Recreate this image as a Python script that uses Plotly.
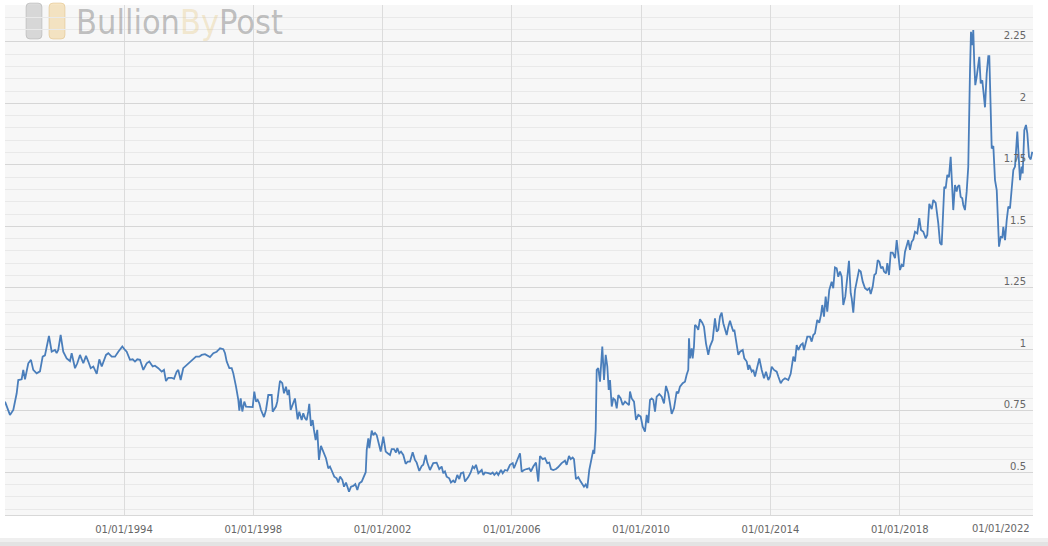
import datetime as dt
import plotly.graph_objects as go

# ---------------- data (decimal year, ratio) ----------------
t_dec = [
    1990.318, 1990.472, 1990.575, 1990.680, 1990.729, 1990.834, 1990.884, 1990.937, 1991.039, 1991.122,
    1991.193, 1991.298, 1991.401, 1991.484, 1991.555, 1991.608, 1991.679, 1991.763, 1991.865, 1991.917,
    1991.967, 1992.041, 1992.121, 1992.227, 1992.329, 1992.381, 1992.484, 1992.555, 1992.638, 1992.740,
    1992.824, 1992.895, 1992.969, 1993.050, 1993.155, 1993.235, 1993.310, 1993.443, 1993.514, 1993.619,
    1993.721, 1993.823, 1993.947, 1994.031, 1994.083, 1994.185, 1994.269, 1994.340, 1994.411, 1994.495,
    1994.597, 1994.702, 1994.782, 1994.888, 1994.959, 1995.061, 1995.166, 1995.237, 1995.299, 1995.370,
    1995.475, 1995.547, 1995.630, 1995.680, 1995.754, 1995.834, 1995.940, 1996.042, 1996.125, 1996.227,
    1996.329, 1996.404, 1996.506, 1996.608, 1996.660, 1996.763, 1996.868, 1996.917, 1996.970, 1997.072,
    1997.125, 1997.177, 1997.258, 1997.332, 1997.381, 1997.465, 1997.536, 1997.567, 1997.610, 1997.660,
    1997.722, 1997.774, 1997.876, 1997.982, 1998.031, 1998.084, 1998.136, 1998.186, 1998.238, 1998.331,
    1998.393, 1998.464, 1998.569, 1998.600, 1998.702, 1998.743, 1998.826, 1998.897, 1998.950, 1999.012,
    1999.064, 1999.105, 1999.157, 1999.238, 1999.290, 1999.374, 1999.423, 1999.498, 1999.547, 1999.600,
    1999.652, 1999.702, 1999.733, 1999.785, 1999.838, 1999.878, 1999.931, 1999.980, 2000.033, 2000.095,
    2000.166, 2000.249, 2000.321, 2000.373, 2000.426, 2000.506, 2000.581, 2000.630, 2000.683, 2000.754,
    2000.806, 2000.868, 2000.961, 2001.023, 2001.094, 2001.156, 2001.218, 2001.280, 2001.354, 2001.425,
    2001.478, 2001.509, 2001.558, 2001.589, 2001.663, 2001.713, 2001.766, 2001.818, 2001.899, 2001.942,
    2002.022, 2002.097, 2002.158, 2002.230, 2002.282, 2002.353, 2002.415, 2002.456, 2002.517, 2002.570,
    2002.641, 2002.715, 2002.777, 2002.848, 2002.932, 2003.003, 2003.056, 2003.136, 2003.210, 2003.260,
    2003.334, 2003.384, 2003.467, 2003.569, 2003.674, 2003.755, 2003.829, 2003.879, 2003.931, 2003.984,
    2004.064, 2004.117, 2004.188, 2004.241, 2004.312, 2004.374, 2004.426, 2004.498, 2004.550, 2004.652,
    2004.726, 2004.788, 2004.838, 2004.890, 2004.962, 2005.067, 2005.116, 2005.169, 2005.271, 2005.345,
    2005.407, 2005.457, 2005.531, 2005.580, 2005.664, 2005.717, 2005.788, 2005.859, 2005.942, 2006.026,
    2006.066, 2006.128, 2006.168, 2006.252, 2006.304, 2006.376, 2006.459, 2006.540, 2006.592, 2006.663,
    2006.747, 2006.818, 2006.871, 2006.954, 2007.025, 2007.096, 2007.158, 2007.211, 2007.282, 2007.366,
    2007.428, 2007.542, 2007.644, 2007.697, 2007.768, 2007.820, 2007.882, 2007.923, 2007.984, 2008.056,
    2008.130, 2008.179, 2008.232, 2008.285, 2008.334, 2008.396, 2008.470, 2008.520, 2008.551, 2008.594,
    2008.625, 2008.674, 2008.727, 2008.798, 2008.851, 2008.903, 2008.953, 2008.996, 2009.036, 2009.089,
    2009.138, 2009.191, 2009.244, 2009.293, 2009.367, 2009.429, 2009.501, 2009.572, 2009.624, 2009.655,
    2009.708, 2009.779, 2009.841, 2009.912, 2009.986, 2010.048, 2010.119, 2010.172, 2010.221, 2010.274,
    2010.327, 2010.376, 2010.429, 2010.481, 2010.562, 2010.636, 2010.707, 2010.769, 2010.840, 2010.893,
    2010.945, 2011.017, 2011.100, 2011.150, 2011.202, 2011.286, 2011.357, 2011.409, 2011.459, 2011.481,
    2011.512, 2011.564, 2011.595, 2011.635, 2011.666, 2011.719, 2011.768, 2011.821, 2011.892, 2011.945,
    2012.007, 2012.078, 2012.130, 2012.214, 2012.285, 2012.338, 2012.387, 2012.440, 2012.492, 2012.542,
    2012.595, 2012.647, 2012.697, 2012.749, 2012.802, 2012.851, 2012.882, 2012.935, 2013.006, 2013.059,
    2013.142, 2013.192, 2013.266, 2013.315, 2013.346, 2013.421, 2013.470, 2013.523, 2013.575, 2013.656,
    2013.730, 2013.801, 2013.863, 2013.934, 2013.987, 2014.039, 2014.111, 2014.194, 2014.244, 2014.318,
    2014.380, 2014.451, 2014.553, 2014.627, 2014.708, 2014.760, 2014.813, 2014.863, 2014.937, 2014.999,
    2015.039, 2015.101, 2015.141, 2015.224, 2015.277, 2015.327, 2015.379, 2015.450, 2015.512, 2015.565,
    2015.605, 2015.658, 2015.710, 2015.760, 2015.822, 2015.896, 2015.945, 2015.998, 2016.051, 2016.100,
    2016.153, 2016.205, 2016.255, 2016.317, 2016.360, 2016.431, 2016.484, 2016.515, 2016.564, 2016.617,
    2016.669, 2016.740, 2016.793, 2016.855, 2016.926, 2016.997, 2017.059, 2017.102, 2017.164, 2017.214,
    2017.266, 2017.319, 2017.369, 2017.421, 2017.474, 2017.514, 2017.576, 2017.616, 2017.669, 2017.721,
    2017.783, 2017.854, 2017.907, 2017.956, 2018.009, 2018.062, 2018.111, 2018.164, 2018.216, 2018.266,
    2018.318, 2018.371, 2018.421, 2018.473, 2018.544, 2018.606, 2018.659, 2018.730, 2018.804, 2018.854,
    2018.916, 2018.990, 2019.039, 2019.114, 2019.194, 2019.247, 2019.299, 2019.339, 2019.380, 2019.423,
    2019.473, 2019.525, 2019.578, 2019.609, 2019.658, 2019.711, 2019.763, 2019.794, 2019.844, 2019.887,
    2019.937, 2019.968, 2020.020, 2020.073, 2020.122, 2020.175, 2020.206, 2020.246, 2020.277, 2020.308,
    2020.339, 2020.382, 2020.432, 2020.463, 2020.506, 2020.555, 2020.586, 2020.639, 2020.692, 2020.741,
    2020.772, 2020.815, 2020.846, 2020.896, 2020.948, 2021.001, 2021.032, 2021.072, 2021.125, 2021.174,
    2021.205, 2021.258, 2021.310, 2021.360, 2021.412, 2021.465, 2021.515, 2021.567, 2021.638, 2021.669,
    2021.722, 2021.774, 2021.805, 2021.855, 2021.907, 2021.948, 2022.000, 2022.053, 2022.102,
]

ratio = [
    0.787, 0.733, 0.753, 0.821, 0.875, 0.878, 0.916, 0.878, 0.943, 0.957,
    0.916, 0.902, 0.910, 0.970, 0.975, 1.011, 1.054, 0.990, 0.997, 0.985,
    0.997, 1.058, 0.990, 0.963, 0.952, 0.984, 0.923, 0.943, 0.977, 0.943,
    0.973, 0.950, 0.923, 0.930, 0.900, 0.959, 0.930, 0.977, 0.984, 0.970,
    0.970, 0.990, 1.011, 0.997, 0.990, 0.957, 0.959, 0.950, 0.959, 0.957,
    0.916, 0.943, 0.950, 0.930, 0.933, 0.923, 0.909, 0.916, 0.871, 0.884,
    0.884, 0.880, 0.909, 0.916, 0.875, 0.923, 0.936, 0.950, 0.957, 0.970,
    0.970, 0.977, 0.980, 0.970, 0.968, 0.984, 0.990, 0.997, 1.004, 1.000,
    0.984, 0.950, 0.923, 0.923, 0.902, 0.848, 0.794, 0.750, 0.800, 0.747,
    0.787, 0.767, 0.765, 0.765, 0.828, 0.787, 0.794, 0.780, 0.753, 0.724,
    0.753, 0.814, 0.814, 0.746, 0.767, 0.787, 0.872, 0.862, 0.821, 0.848,
    0.814, 0.835, 0.753, 0.780, 0.800, 0.715, 0.746, 0.712, 0.740, 0.720,
    0.712, 0.746, 0.778, 0.688, 0.712, 0.672, 0.631, 0.672, 0.550, 0.607,
    0.580, 0.557, 0.516, 0.523, 0.507, 0.482, 0.475, 0.458, 0.482, 0.469,
    0.441, 0.458, 0.421, 0.441, 0.444, 0.452, 0.428, 0.455, 0.462, 0.485,
    0.500, 0.591, 0.638, 0.598, 0.669, 0.651, 0.660, 0.651, 0.604, 0.584,
    0.645, 0.584, 0.577, 0.570, 0.594, 0.594, 0.580, 0.598, 0.577, 0.584,
    0.570, 0.534, 0.543, 0.543, 0.581, 0.550, 0.539, 0.505, 0.525, 0.530,
    0.570, 0.539, 0.509, 0.537, 0.539, 0.513, 0.523, 0.496, 0.503, 0.482,
    0.475, 0.458, 0.466, 0.458, 0.489, 0.472, 0.496, 0.499, 0.462, 0.480,
    0.499, 0.523, 0.516, 0.530, 0.496, 0.509, 0.489, 0.499, 0.496, 0.493,
    0.499, 0.489, 0.499, 0.489, 0.509, 0.496, 0.509, 0.506, 0.530, 0.537,
    0.516, 0.537, 0.547, 0.577, 0.502, 0.509, 0.513, 0.516, 0.503, 0.523,
    0.539, 0.462, 0.566, 0.553, 0.557, 0.537, 0.539, 0.513, 0.509, 0.513,
    0.520, 0.537, 0.547, 0.530, 0.566, 0.553, 0.560, 0.553, 0.472, 0.480,
    0.462, 0.452, 0.441, 0.450, 0.435, 0.509, 0.560, 0.591, 0.575, 0.672,
    0.916, 0.923, 0.868, 1.011, 0.875, 0.977, 0.930, 0.835, 0.875, 0.767,
    0.800, 0.794, 0.760, 0.814, 0.800, 0.773, 0.787, 0.780, 0.773, 0.828,
    0.800, 0.787, 0.713, 0.733, 0.726, 0.685, 0.665, 0.733, 0.700, 0.794,
    0.800, 0.794, 0.746, 0.807, 0.818, 0.807, 0.780, 0.851, 0.821, 0.780,
    0.737, 0.760, 0.828, 0.821, 0.848, 0.862, 0.868, 0.896, 0.916, 1.045,
    0.963, 1.004, 0.963, 1.011, 1.099, 1.092, 1.079, 1.122, 1.108, 1.092,
    1.024, 0.977, 1.011, 1.038, 1.126, 1.072, 1.079, 1.133, 1.149, 1.106,
    1.085, 1.058, 1.092, 1.116, 1.092, 1.072, 1.080, 1.031, 0.977, 0.990,
    0.997, 0.963, 0.950, 0.916, 0.936, 0.909, 0.916, 0.889, 0.916, 0.963,
    0.916, 0.882, 0.909, 0.875, 0.889, 0.929, 0.916, 0.909, 0.889, 0.862,
    0.875, 0.882, 0.875, 0.900, 0.970, 0.950, 1.017, 0.997, 1.017, 1.024,
    0.997, 1.024, 1.051, 1.051, 1.031, 1.058, 1.065, 1.119, 1.108, 1.140,
    1.180, 1.133, 1.214, 1.153, 1.241, 1.275, 1.248, 1.333, 1.329, 1.295,
    1.316, 1.295, 1.180, 1.214, 1.282, 1.360, 1.228, 1.207, 1.149, 1.241,
    1.275, 1.322, 1.316, 1.275, 1.248, 1.241, 1.248, 1.225, 1.255, 1.302,
    1.309, 1.363, 1.356, 1.329, 1.336, 1.316, 1.309, 1.350, 1.302, 1.393,
    1.393, 1.370, 1.444, 1.383, 1.322, 1.343, 1.336, 1.397, 1.417, 1.444,
    1.404, 1.437, 1.446, 1.478, 1.471, 1.533, 1.485, 1.478, 1.451, 1.465,
    1.591, 1.570, 1.607, 1.595, 1.512, 1.433, 1.424, 1.550, 1.661, 1.654,
    1.709, 1.700, 1.783, 1.700, 1.566, 1.668, 1.641, 1.661, 1.668, 1.620,
    1.614, 1.587, 1.566, 1.641, 1.742, 2.128, 2.291, 2.237, 2.298, 2.162,
    2.074, 2.108, 2.163, 2.189, 2.081, 2.094, 2.054, 1.984, 2.122, 2.192,
    2.192, 2.000, 1.817, 1.826, 1.688, 1.647, 1.525, 1.417, 1.457, 1.455,
    1.498, 1.444, 1.525, 1.580, 1.573, 1.641, 1.729, 1.743, 1.885, 1.810,
    1.688, 1.743, 1.715, 1.891, 1.912, 1.878, 1.783, 1.772, 1.803,
]

x_tick_years = [1994, 1998, 2002, 2006, 2010, 2014, 2018, 2022]
y_tick_vals = [0.5, 0.75, 1, 1.25, 1.5, 1.75, 2, 2.25]
y_tick_text = ["0.5", "0.75", "1", "1.25", "1.5", "1.75", "2", "2.25"]
x_range_dec = [1990.318, 2022.124]
y_range = [0.326, 2.40]


def dec_to_dt(y):
    yr = int(y)
    start = dt.datetime(yr, 1, 1)
    end = dt.datetime(yr + 1, 1, 1)
    return start + (end - start) * (y - yr)


dates = [dec_to_dt(v) for v in t_dec]

# ---------------- layout geometry ----------------
W, H = 1048, 546
ML, MR, MT, MB = 5, 15, 5, 31
PW, PH = W - ML - MR, H - MT - MB


def px(xp):
    return (xp - ML) / PW


def py(yp):
    return (H - MB - yp) / PH


def rounded_rect(x0, y0, x1, y1, r):
    X0, X1 = px(x0), px(x1)
    Y0, Y1 = py(y0), py(y1)  # Y0 top (larger), Y1 bottom
    rx, ry = r / PW, r / PH
    return (f"M {X0+rx},{Y0} L {X1-rx},{Y0} Q {X1},{Y0} {X1},{Y0-ry} "
            f"L {X1},{Y1+ry} Q {X1},{Y1} {X1-rx},{Y1} L {X0+rx},{Y1} "
            f"Q {X0},{Y1} {X0},{Y1+ry} L {X0},{Y0-ry} Q {X0},{Y0} {X0+rx},{Y0} Z")


fig = go.Figure()
fig.add_trace(go.Scatter(
    x=dates, y=ratio, mode="lines",
    line=dict(color="#4a7ebb", width=1.8),
    showlegend=False, hoverinfo="x+y",
))

tick_dates = [dt.datetime(y, 1, 1) for y in x_tick_years]
tick_text = [d.strftime("%d/%m/%Y") for d in tick_dates]
tick_text[-1] = ""

label_font = dict(family="DejaVu Sans, Verdana, sans-serif", size=10, color="#666666")

fig.update_layout(
    width=W, height=H,
    margin=dict(l=ML, r=MR, t=MT, b=MB, autoexpand=False),
    paper_bgcolor="#ffffff",
    plot_bgcolor="#f7f7f7",
    font=label_font,
    xaxis=dict(
        type="date",
        range=[dec_to_dt(x_range_dec[0]), dec_to_dt(x_range_dec[1])],
        tickmode="array", tickvals=tick_dates, ticktext=tick_text,
        ticklabelstandoff=5,
        showgrid=True, gridcolor="#dcdcdc", gridwidth=1,
        showline=True, linecolor="#d8d8d8", linewidth=1,
        zeroline=False, ticks="", tickfont=label_font,
        fixedrange=True,
    ),
    yaxis=dict(
        range=y_range, side="right",
        tickmode="array", tickvals=y_tick_vals, ticktext=y_tick_text,
        ticklabelposition="inside", ticklabelshift=-6, ticklabelstandoff=4,
        showgrid=True, gridcolor="#d6d6d6", gridwidth=1,
        minor=dict(tickmode="linear", tick0=0, dtick=0.05, showgrid=True,
                   gridcolor="#e9e9e9", gridwidth=1, ticks=""),
        zeroline=False, showline=False, ticks="", tickfont=label_font,
        fixedrange=True,
    ),
    shapes=[
        dict(type="path", xref="paper", yref="paper", path=rounded_rect(26, 3, 42, 39, 4),
             fillcolor="rgba(175,175,175,0.45)", line=dict(color="rgba(150,150,150,0.35)", width=1),
             layer="below"),
        dict(type="path", xref="paper", yref="paper", path=rounded_rect(49, 3, 65, 39, 4),
             fillcolor="rgba(240,205,140,0.5)", line=dict(color="rgba(220,185,120,0.45)", width=1),
             layer="below"),
        dict(type="rect", xref="paper", yref="paper", x0=px(0), x1=px(W), y0=py(538), y1=py(542),
             fillcolor="#efefef", line=dict(width=0)),
        dict(type="rect", xref="paper", yref="paper", x0=px(0), x1=px(W), y0=py(542), y1=py(546),
             fillcolor="#e3e3e3", line=dict(width=0)),
    ],
    annotations=[
        dict(xref="paper", yref="paper", x=px(1032), y=py(528), xanchor="right", yanchor="middle",
             text="01/01/2022", showarrow=False, font=label_font),
        dict(xref="paper", yref="paper", x=px(74), y=py(22), xanchor="left", yanchor="middle",
             text="Bullion<span style='color:rgba(228,196,120,0.75)'>By</span>Post",
             showarrow=False,
             font=dict(family="DejaVu Sans Condensed, DejaVu Sans, sans-serif",
                       size=34, color="rgba(120,120,120,0.45)")),
    ],
)

fig.write_html(
    "out.html",
    config=dict(displayModeBar=False),
    post_script="document.body.style.margin='0';document.body.style.padding='0';",
)
